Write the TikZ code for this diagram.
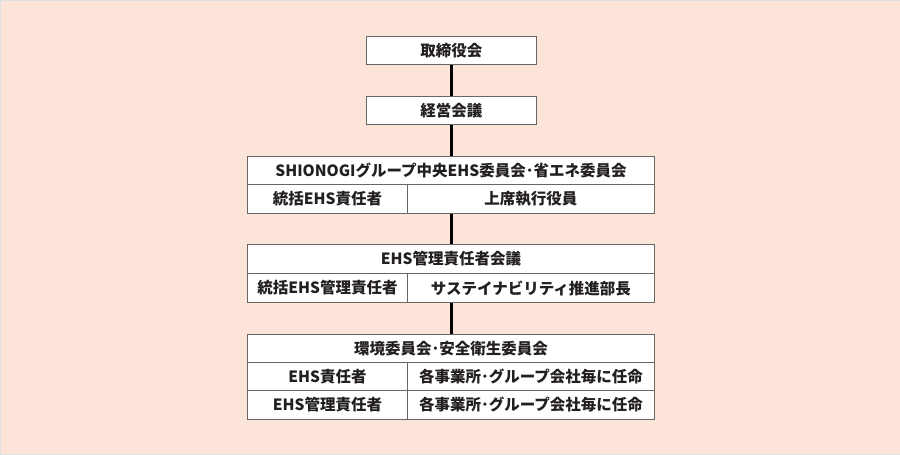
\documentclass[tikz,border=0pt]{standalone}
\usepackage{fontspec}
\setmainfont{Noto Sans CJK JP}
\definecolor{bgpeach}{HTML}{FDE4D8}
\definecolor{ink}{HTML}{231F20}

\begin{document}
\begin{tikzpicture}[x=1pt,y=-1pt,
  cell/.style={draw=black!60,line width=0.9pt,fill=white,inner sep=0pt,anchor=north west,
    minimum height=28pt,text=ink,font=\fontsize{15.5}{17}\selectfont\bfseries},
  link/.style={draw=black,line width=2.2pt}]
\draw[fill=bgpeach,draw=black!12] (0,0) rectangle (900,454);
% top boxes
\node[cell,minimum width=170pt] (board) at (366,36) {取締役会};
\node[cell,minimum width=170pt] (mgmt) at (366,96) {経営会議};
% central committee
\node[cell,minimum width=407pt] (central) at (247,156) {SHIONOGIグループ中央EHS委員会･省エネ委員会};
\node[cell,minimum width=160pt,minimum height=29pt] (chiefL) at (247,184) {統括EHS責任者};
\node[cell,minimum width=247pt,minimum height=29pt] (chiefR) at (407,184) {上席執行役員};
% EHS managers meeting
\node[cell,minimum width=407pt,minimum height=29pt] (meeting) at (247,244) {EHS管理責任者会議};
\node[cell,minimum width=160pt,minimum height=29pt] (mgrL) at (247,273) {統括EHS管理責任者};
\node[cell,minimum width=247pt,minimum height=29pt] (mgrR) at (407,273) {サステイナビリティ推進部長};
% site committees
\node[cell,minimum width=407pt] (site) at (247,334) {環境委員会･安全衛生委員会};
\node[cell,minimum width=160pt] (respL) at (247,362) {EHS責任者};
\node[cell,minimum width=247pt] (respR) at (407,362) {各事業所･グループ会社毎に任命};
\node[cell,minimum width=160pt,minimum height=29pt] (admL) at (247,390) {EHS管理責任者};
\node[cell,minimum width=247pt,minimum height=29pt] (admR) at (407,390) {各事業所･グループ会社毎に任命};
% connectors
\draw[link] (board.south) -- (mgmt.north);
\draw[link] (mgmt.south) -- (mgmt.south |- central.north);
\draw[link] (chiefR.south -| mgmt.south) -- (mgmt.south |- meeting.north);
\draw[link] (mgrR.south -| mgmt.south) -- (mgmt.south |- site.north);
\end{tikzpicture}
\end{document}
